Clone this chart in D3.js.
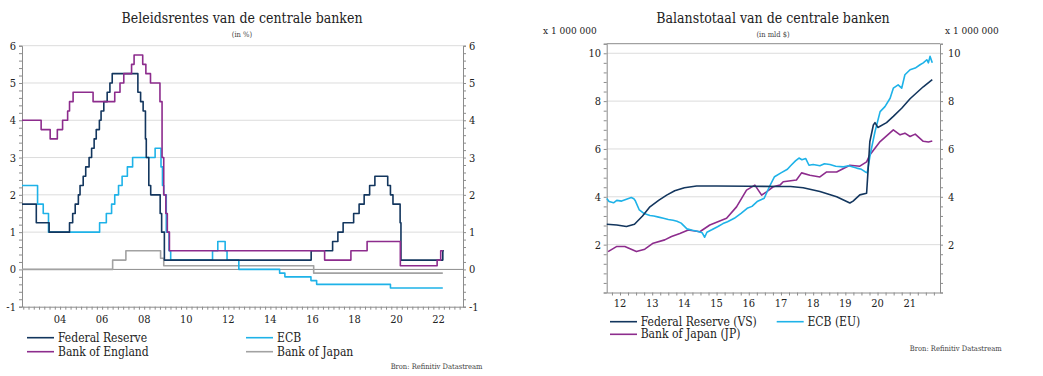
<!DOCTYPE html>
<html>
<head>
<meta charset="utf-8">
<script src="https://cdn.jsdelivr.net/npm/d3@7"></script>
<style>
  body { margin: 0; background: #fff; }
  svg { display: block; }
  text { font-family: "DejaVu Serif Condensed", "DejaVu Serif", serif; fill: #222; font-stretch: condensed; }
  .grid line { stroke: #dcdcdc; stroke-width: 1; }
  .frame { stroke: #8c8c8c; stroke-width: 1; fill: none; }
  .axis path, .axis line { stroke: #8c8c8c; }
  .series { fill: none; stroke-width: 1.6; stroke-linejoin: round; }
  .small { font-size: 7.5px; fill: #444; }
</style>
</head>
<body>
<svg id="chart" width="1043" height="376"></svg>
<script>
// ---------- Beleidsrentes (step change points: [year, rate %]) ----------
const fedRate = [[2002.19,1.75],[2002.87,1.25],[2003.48,1.0],[2004.45,1.25],[2004.6,1.5],[2004.72,1.75],[2004.87,2.0],[2004.95,2.25],[2005.1,2.5],[2005.22,2.75],[2005.38,3.0],[2005.5,3.25],[2005.62,3.5],[2005.72,3.75],[2005.87,4.0],[2005.95,4.25],[2006.08,4.5],[2006.24,4.75],[2006.37,5.0],[2006.48,5.25],[2007.7,4.75],[2007.83,4.5],[2007.95,4.25],[2008.06,3.5],[2008.1,3.0],[2008.22,2.25],[2008.31,2.0],[2008.76,1.5],[2008.83,1.0],[2008.96,0.25],[2015.94,0.5],[2016.96,0.75],[2017.21,1.0],[2017.46,1.25],[2017.96,1.5],[2018.22,1.75],[2018.46,2.0],[2018.72,2.25],[2018.97,2.5],[2019.58,2.25],[2019.71,2.0],[2019.83,1.75],[2020.17,1.25],[2020.21,0.25],[2022.2,0.5],[2022.25,0.5]];
const ecbRate = [[2002.19,2.25],[2002.93,1.75],[2003.2,1.5],[2003.45,1.0],[2005.88,1.25],[2006.2,1.5],[2006.45,1.75],[2006.6,2.0],[2006.78,2.25],[2006.95,2.5],[2007.2,2.75],[2007.45,3.0],[2008.52,3.25],[2008.8,2.75],[2008.87,2.25],[2008.93,2.0],[2009.05,1.0],[2009.18,0.5],[2009.26,0.25],[2011.25,0.5],[2011.5,0.75],[2011.85,0.5],[2011.94,0.25],[2012.5,0],[2014.44,-0.1],[2014.69,-0.2],[2015.93,-0.3],[2016.2,-0.4],[2019.71,-0.5],[2022.2,-0.5]];
const boeRate = [[2002.19,4.0],[2003.1,3.75],[2003.53,3.5],[2003.87,3.75],[2004.12,4.0],[2004.36,4.25],[2004.45,4.5],[2004.62,4.75],[2005.57,4.5],[2006.6,4.75],[2006.85,5.0],[2007.03,5.25],[2007.4,5.5],[2007.52,5.75],[2007.93,5.5],[2008.08,5.25],[2008.3,5.0],[2008.75,4.5],[2008.85,3.0],[2008.93,2.0],[2009.03,1.5],[2009.1,1.0],[2009.2,0.5],[2016.58,0.25],[2017.83,0.5],[2018.6,0.75],[2020.18,0.1],[2021.93,0.25],[2022.1,0.5],[2022.2,0.5]];
const bojRate = [[2002.19,0],[2006.5,0.25],[2007.13,0.5],[2008.78,0.3],[2008.93,0.1],[2016.06,-0.1],[2022.2,-0.1]];

// ---------- Balanstotaal (x 1 000 000 mld $): [year, value] ----------
const fedBalance = [[2012.09,2.85],[2012.4,2.82],[2012.7,2.76],[2012.95,2.85],[2013.2,3.2],[2013.43,3.58],[2013.7,3.85],[2013.95,4.07],[2014.2,4.25],[2014.5,4.38],[2014.88,4.45],[2015.5,4.45],[2016.5,4.44],[2017.5,4.43],[2017.8,4.43],[2018.19,4.38],[2018.71,4.22],[2019.23,4.0],[2019.64,3.74],[2019.74,3.82],[2019.95,4.08],[2020.16,4.15],[2020.21,5.2],[2020.26,6.3],[2020.37,7.0],[2020.42,7.1],[2020.51,6.9],[2020.78,7.1],[2020.99,7.36],[2021.25,7.7],[2021.51,8.1],[2021.92,8.6],[2022.2,8.9]];
const ecbBalance = [[2012.09,3.93],[2012.16,3.8],[2012.3,3.75],[2012.4,3.85],[2012.55,3.82],[2012.7,3.9],[2012.85,3.97],[2012.93,3.92],[2012.97,3.85],[2013.1,3.45],[2013.25,3.3],[2013.43,3.22],[2013.55,3.2],[2013.7,3.15],[2013.85,3.1],[2014.0,3.05],[2014.15,3.02],[2014.27,2.98],[2014.4,2.9],[2014.58,2.66],[2014.75,2.6],[2014.9,2.56],[2015.05,2.5],[2015.13,2.31],[2015.2,2.52],[2015.35,2.62],[2015.53,2.75],[2015.7,2.88],[2015.84,2.96],[2016.05,3.1],[2016.26,3.31],[2016.45,3.52],[2016.6,3.6],[2016.76,3.8],[2016.98,3.94],[2017.14,4.42],[2017.3,4.84],[2017.5,5.0],[2017.7,5.15],[2017.8,5.3],[2017.95,5.5],[2018.06,5.62],[2018.15,5.55],[2018.27,5.6],[2018.37,5.32],[2018.5,5.35],[2018.71,5.3],[2018.85,5.38],[2019.02,5.35],[2019.2,5.28],[2019.44,5.25],[2019.6,5.3],[2019.85,5.2],[2020.0,5.15],[2020.11,5.05],[2020.18,5.0],[2020.27,5.75],[2020.42,6.72],[2020.58,7.56],[2020.73,7.77],[2020.89,8.12],[2020.99,8.54],[2021.14,8.68],[2021.25,8.54],[2021.35,9.1],[2021.51,9.31],[2021.67,9.38],[2021.82,9.52],[2021.92,9.6],[2022.03,9.73],[2022.08,9.6],[2022.13,9.87],[2022.2,9.6]];
const bojBalance = [[2012.13,1.71],[2012.39,1.92],[2012.65,1.92],[2013.01,1.71],[2013.27,1.81],[2013.53,2.06],[2013.89,2.2],[2014.1,2.34],[2014.36,2.47],[2014.62,2.61],[2014.98,2.54],[2015.29,2.82],[2015.81,3.1],[2016.12,3.58],[2016.43,4.28],[2016.69,4.49],[2016.9,4.07],[2017.05,4.21],[2017.26,4.42],[2017.47,4.49],[2017.57,4.63],[2017.98,4.7],[2018.14,5.0],[2018.4,4.9],[2018.71,4.83],[2018.92,5.04],[2019.23,5.04],[2019.64,5.32],[2019.95,5.28],[2020.16,5.46],[2020.26,5.75],[2020.58,6.31],[2020.99,6.8],[2021.2,6.59],[2021.35,6.66],[2021.51,6.52],[2021.67,6.62],[2021.92,6.32],[2022.08,6.29],[2022.2,6.33]];

const rateYears = d3.range(2004, 2023, 2);
const rateTicks = d3.range(-1, 7, 1);
const balanceYears = d3.range(2012, 2022, 1);
const balanceTicks = [2, 4, 6, 8, 10];

const colors = { fed: "#13365e", ecb: "#1eb2e8", boe: "#8d2c8d", boj: "#a2a2a2" };

const svg = d3.select("#chart");

// ================= Left chart: Beleidsrentes =================
{
  const x = d3.scaleLinear().domain([2002.19, 2023.16]).range([22, 463]);
  const y = d3.scaleLinear().domain([-1, 6]).range([306.7, 45.7]);
  const g = svg.append("g");

  // gridlines
  g.append("g").attr("class", "grid")
    .selectAll("line").data(rateTicks.filter(d => d !== -1 && d !== 0)).join("line")
    .attr("x1", 22).attr("x2", 463).attr("y1", d => y(d)).attr("y2", d => y(d));

  // side axes with minor ticks
  const minorY = d3.range(-1, 6.01, 0.2);
  g.append("g").attr("class", "axis").attr("transform", "translate(22,0)")
    .call(d3.axisLeft(y).tickValues(minorY).tickSize(3).tickFormat(""));
  g.append("g").attr("class", "axis").attr("transform", "translate(463,0)")
    .call(d3.axisRight(y).tickValues(minorY).tickSize(3).tickFormat(""));

  // bottom axis: quarterly minor ticks
  g.append("g").attr("class", "axis").attr("transform", `translate(0,${y(-1)})`)
    .call(d3.axisBottom(x).tickValues(d3.range(2002.25, 2023.2, 0.25)).tickSize(3).tickFormat("").tickSizeOuter(0));

  // zero line
  g.append("line").attr("class", "frame")
    .attr("x1", 22).attr("x2", 463).attr("y1", y(0)).attr("y2", y(0));

  // tick labels
  g.selectAll(".yl").data(rateTicks).join("text")
    .attr("x", 16).attr("y", d => y(d) + 4).attr("text-anchor", "end")
    .style("font-size", "11px").text(d => d);
  g.selectAll(".yr").data(rateTicks).join("text")
    .attr("x", 469).attr("y", d => y(d) + 4).attr("text-anchor", "start")
    .style("font-size", "11px").text(d => d);
  g.selectAll(".xl").data(rateYears).join("text")
    .attr("x", d => x(d)).attr("y", 322.5).attr("text-anchor", "middle")
    .style("font-size", "11px").text(d => String(d).slice(2));

  // series
  const line = d3.line().x(d => x(d[0])).y(d => y(d[1])).curve(d3.curveStepAfter);
  [[bojRate, colors.boj], [ecbRate, colors.ecb], [fedRate, colors.fed], [boeRate, colors.boe]]
    .forEach(([data, c]) => {
      g.append("path").attr("class", "series").attr("d", line(data)).attr("stroke", c);
    });

  // titles
  g.append("text").attr("x", 242).attr("y", 23).attr("text-anchor", "middle")
    .style("font-size", "14px").text("Beleidsrentes van de centrale banken");
  g.append("text").attr("class", "small").attr("x", 242).attr("y", 37).attr("text-anchor", "middle")
    .text("(in %)");

  // legend
  const legend = [
    { name: "Federal Reserve", c: colors.fed, lx: 27, row: 0 },
    { name: "ECB", c: colors.ecb, lx: 246, row: 0 },
    { name: "Bank of England", c: colors.boe, lx: 27, row: 1 },
    { name: "Bank of Japan", c: colors.boj, lx: 246, row: 1 }
  ];
  legend.forEach(d => {
    const ly = 337.7 + d.row * 14;
    g.append("line").attr("x1", d.lx).attr("x2", d.lx + 27).attr("y1", ly).attr("y2", ly)
      .attr("stroke", d.c).attr("stroke-width", 1.6);
    g.append("text").attr("x", d.lx + 31).attr("y", ly + 4).style("font-size", "12px").text(d.name);
  });

  g.append("text").attr("class", "small").attr("x", 482.5).attr("y", 368.5).attr("text-anchor", "end")
    .text("Bron: Refinitiv Datastream");
}

// ================= Right chart: Balanstotaal =================
{
  const x = d3.scaleLinear().domain([2012.087, 2022.44]).range([606.7, 940]);
  const y = d3.scaleLinear().domain([0, 10.4]).range([292.5, 43.7]);
  const g = svg.append("g");

  g.append("g").attr("class", "grid")
    .selectAll("line").data(balanceTicks).join("line")
    .attr("x1", 606.7).attr("x2", 940).attr("y1", d => y(d)).attr("y2", d => y(d));

  const minorY = d3.range(0, 10.41, 0.4);
  g.append("g").attr("class", "axis").attr("transform", "translate(606.7,0)")
    .call(d3.axisLeft(y).tickValues(minorY).tickSize(3).tickFormat(""));
  g.append("g").attr("class", "axis").attr("transform", "translate(940,0)")
    .call(d3.axisRight(y).tickValues(minorY).tickSize(3).tickFormat(""));
  g.append("g").attr("class", "axis").attr("transform", `translate(0,${y(0)})`)
    .call(d3.axisBottom(x).tickValues(d3.range(2012.25, 2022.44, 0.25)).tickSize(3).tickFormat("").tickSizeOuter(0));
  g.append("line").attr("class", "frame")
    .attr("x1", 606.7).attr("x2", 940).attr("y1", y(10.4)).attr("y2", y(10.4));

  g.selectAll(".yl").data(balanceTicks).join("text")
    .attr("x", 601).attr("y", d => y(d) + 4).attr("text-anchor", "end")
    .style("font-size", "11px").text(d => d);
  g.selectAll(".yr").data(balanceTicks).join("text")
    .attr("x", 948).attr("y", d => y(d) + 4).attr("text-anchor", "start")
    .style("font-size", "11px").text(d => d);
  g.selectAll(".xl").data(balanceYears).join("text")
    .attr("x", d => x(d + 0.5)).attr("y", 307.3).attr("text-anchor", "middle")
    .style("font-size", "11px").text(d => String(d).slice(2));

  const line = d3.line().x(d => x(d[0])).y(d => y(d[1]));
  [[bojBalance, colors.boe], [ecbBalance, colors.ecb], [fedBalance, colors.fed]]
    .forEach(([data, c]) => {
      g.append("path").attr("class", "series").attr("d", line(data)).attr("stroke", c);
    });

  g.append("text").attr("x", 773).attr("y", 22.5).attr("text-anchor", "middle")
    .style("font-size", "14px").text("Balanstotaal van de centrale banken");
  g.append("text").attr("class", "small").attr("x", 773).attr("y", 37).attr("text-anchor", "middle")
    .text("(in mld $)");
  g.append("text").attr("x", 543).attr("y", 34).style("font-size", "10px").text("x 1 000 000");
  g.append("text").attr("x", 945).attr("y", 34).style("font-size", "10px").text("x 1 000 000");

  const legend = [
    { name: "Federal Reserve (VS)", c: colors.fed, lx: 610, row: 0 },
    { name: "ECB (EU)", c: colors.ecb, lx: 776.7, row: 0 },
    { name: "Bank of Japan (JP)", c: colors.boe, lx: 610, row: 1 }
  ];
  legend.forEach(d => {
    const ly = 321.7 + d.row * 12.6;
    g.append("line").attr("x1", d.lx).attr("x2", d.lx + 27).attr("y1", ly).attr("y2", ly)
      .attr("stroke", d.c).attr("stroke-width", 1.6);
    g.append("text").attr("x", d.lx + 30.7).attr("y", ly + 4).style("font-size", "12px").text(d.name);
  });

  g.append("text").attr("class", "small").attr("x", 1001.7).attr("y", 351).attr("text-anchor", "end")
    .text("Bron: Refinitiv Datastream");
}
</script>
</body>
</html>
